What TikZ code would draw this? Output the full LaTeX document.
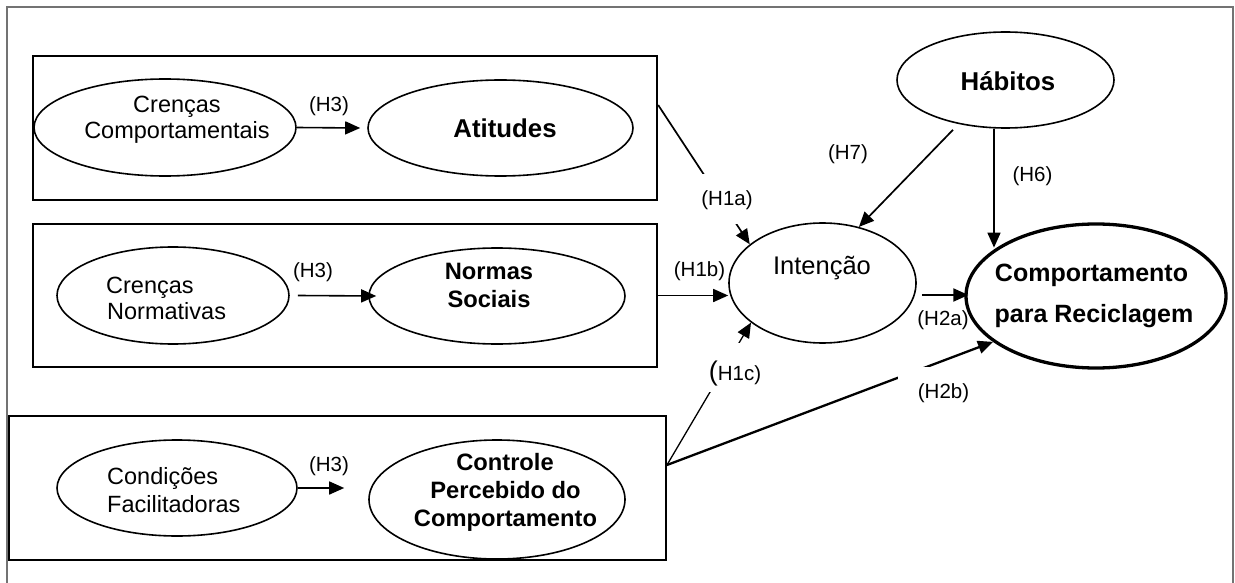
\documentclass[tikz,border=0pt]{standalone}
\usepackage{fontspec}
\setmainfont{Liberation Sans}
\usetikzlibrary{shapes.geometric,arrows.meta,calc}
\begin{document}
\begin{tikzpicture}[x=1pt,y=-1pt,
  grp/.style={draw, rectangle, inner sep=0, line width=1.9pt},
  ell/.style={draw, ellipse, inner sep=0, line width=1.6pt},
  arr/.style={-{Triangle[length=15pt,width=13pt]}, line width=1.6pt},
  rtxt/.style={inner sep=0, anchor=base, font=\fontsize{23.5}{28}\selectfont},
  ltxt/.style={rtxt, anchor=base west},
  btxt/.style={inner sep=0, anchor=base, font=\bfseries\fontsize{23.7}{28}\selectfont},
  bbig/.style={inner sep=0, anchor=base, font=\bfseries\fontsize{25.8}{30}\selectfont},
  lab/.style={inner sep=0, anchor=base, font=\fontsize{20.5}{24}\selectfont},
  mask/.style={lab, fill=white}
]
\useasboundingbox (0,0) rectangle (1235,583);
\fill[white] (0,0) rectangle (1235,583);
% outer frame
\draw[black!55, line width=2.2pt] (7,590) -- (7,7) -- (1233,7) -- (1233,590);

% construct groups
\node[grp, line width=2.3pt, minimum width=624, minimum height=144] (box1) at (345,128) {};
\node[grp, minimum width=624, minimum height=143] (box2) at (345,295.5) {};
\node[grp, minimum width=657, minimum height=144] (box3) at (337.5,488) {};

% ellipses
\node[ell, minimum width=262, minimum height=97] (crc) at (165,127.5) {};
\node[ell, minimum width=265, minimum height=96] (atd) at (500.5,128) {};
\node[ell, minimum width=232, minimum height=97] (crn) at (173,295.5) {};
\node[ell, minimum width=256, minimum height=96] (nrm) at (497,296) {};
\node[ell, minimum width=240, minimum height=96] (cfa) at (177,488) {};
\node[ell, minimum width=256, minimum height=119] (pbc) at (497,499.5) {};
\node[ell, minimum width=187, minimum height=120] (int) at (822.5,283) {};
\node[ell, minimum width=217, minimum height=96] (hab) at (1005.5,80) {};
\node[ell, line width=3.3pt, minimum width=260, minimum height=144] (beh) at (1096,296) {};

% texts
\node[rtxt] (t-crc1) at (177,113) {Crenças};
\node[rtxt] (t-crc2) at (177,139) {Comportamentais};
\node[bbig] (t-atd) at (505,138) {Atitudes};
\node[ltxt] (t-crn1) at (106,293) {Crenças};
\node[ltxt] (t-crn2) at (107,319) {Normativas};
\node[btxt] (t-nrm1) at (489,279) {Normas};
\node[btxt] (t-nrm2) at (489,307) {Sociais};
\node[ltxt] (t-cfa1) at (107,484) {Condições};
\node[ltxt] (t-cfa2) at (107,512) {Facilitadoras};
\node[btxt] (t-pbc1) at (505,470) {Controle};
\node[btxt] (t-pbc2) at (505.5,498) {Percebido do};
\node[btxt] (t-pbc3) at (505.5,526) {Comportamento};
\node[rtxt, font=\fontsize{25.5}{30}\selectfont] (t-int) at (822,274) {Intenção};
\node[bbig] (t-hab) at (1008,91) {Hábitos};
\node[bbig, font=\bfseries\fontsize{25}{30}\selectfont] (t-beh1) at (1091.5,281.5) {Comportamento};
\node[bbig, font=\bfseries\fontsize{25}{30}\selectfont] (t-beh2) at (1094,322) {para Reciclagem};

% H3 arrows inside the groups
\draw[arr] (crc.east) -- ($(atd.west)+(-7,0)$);
\draw[arr] ($(crn.east)+(8,0)$) -- ($(nrm.west)+(8,0)$);
\draw[arr] (cfa.east) -- ($(pbc.west |- cfa.east)+(-24,0)$);
\node[lab] (l3a) at (329,112) {(H3)};
\node[lab] (l3b) at (313,277.7) {(H3)};
\node[lab] (l3c) at (329,471) {(H3)};

% group to intention
\draw[arr, line width=1.7pt] ($(box1.east)+(0,-23)$) -- (int.152);
\draw[arr] (box2.east) -- (int.west |- box2.east);
\draw[arr, line width=1.3pt] ($(box3.east)+(0,-23)$) -- (int.209);
\draw[arr, line width=2.3pt] ($(box3.east)+(0,-23)$) -- (beh.204.5);

% intention to behaviour
\draw[arr, line width=2pt] ($(int.east)+(5,12)$) -- ($(beh.west)+(4,-1)$);

% habits
\draw[arr, line width=1.7pt] ($(hab.south)+(-52.5,1)$) -- (int.57.6);
\coordinate (h6s) at ($(hab.south)+(-11.5,0)$);
\draw[arr, line width=1.7pt] (h6s) -- (h6s |- beh.154.8);

% hypothesis labels
\node[mask, inner xsep=3pt, text height=31pt, text depth=19pt] (l1a) at (727,205) {(H1a)};
\node[lab] (l1b) at (699.5,276.7) {(H1b)};
\node[mask, inner xsep=3pt, text height=37pt, text depth=12pt] (l1c) at (735,380) {{\fontsize{27}{27}\selectfont(}H1c)};
\node[lab] (l2a) at (943,325) {(H2a)};
\node[mask, inner xsep=19.5pt, text height=31pt, text depth=14pt] (l2b) at (943.5,398) {(H2b)};
\node[lab] (l7) at (848,160) {(H7)};
\node[mask, inner xsep=17.6pt, text height=32pt, text depth=18pt] (l6) at (1032.5,182) {(H6)};
\end{tikzpicture}
\end{document}
